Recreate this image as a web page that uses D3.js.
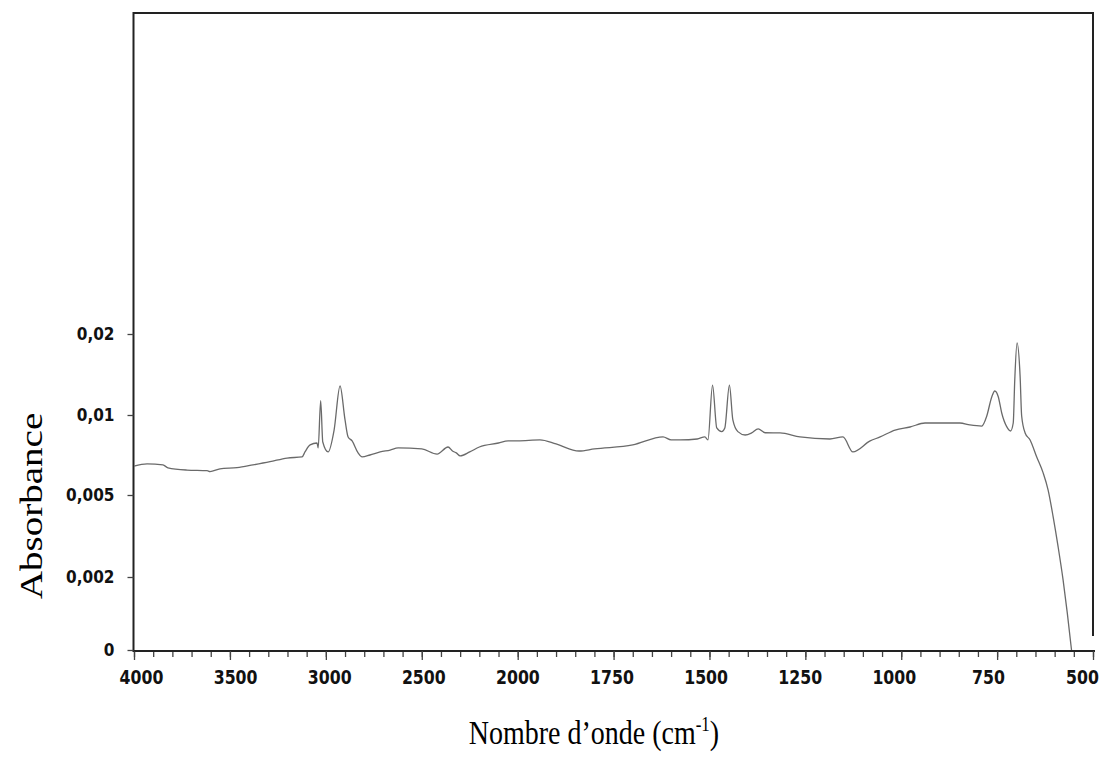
<!DOCTYPE html>
<html>
<head>
<meta charset="utf-8">
<script src="https://cdn.jsdelivr.net/npm/d3@7"></script>
<style>
body { margin: 0; background: #fff; }
.tick text { font-family: "Liberation Sans Narrow", "DejaVu Sans Condensed", sans-serif; font-weight: bold; fill: #111; }
.title { font-family: "Liberation Serif", "Times New Roman", serif; fill: #000; }
</style>
</head>
<body>
<svg id="chart" width="1100" height="760"></svg>
<script>
// spectrum (cm-1 / absorbance)
var wavenumber = [4000, 3932, 3849, 3823, 3724, 3619, 3604, 3552, 3463, 3380, 3291, 3202, 3124, 3108, 3082, 3046, 3040, 3027, 3016, 2988, 2957, 2926, 2900, 2884, 2863, 2832, 2811, 2770, 2717, 2665, 2623, 2500, 2420, 2363, 2340, 2320, 2300, 2250, 2200, 2100, 2050, 2000, 1942, 1900, 1840, 1800, 1700, 1621, 1600, 1576, 1532, 1512, 1504, 1492, 1481, 1468, 1460, 1448, 1439, 1426, 1407, 1390, 1373, 1355, 1334, 1316, 1264, 1186, 1152, 1126, 1081, 1055, 1016, 977, 938, 899, 847, 821, 790, 777, 764, 756, 747, 738, 725, 715, 708, 704, 698, 690, 686, 677, 664, 647, 630, 617, 604, 591, 578, 567, 556];
var absorbance = [0.00681, 0.00694, 0.00688, 0.00670, 0.00656, 0.00652, 0.00646, 0.00663, 0.00671, 0.00688, 0.00708, 0.00731, 0.00738, 0.00771, 0.00813, 0.00825, 0.00794, 0.01177, 0.00831, 0.00769, 0.00906, 0.01358, 0.00969, 0.00863, 0.00838, 0.00763, 0.00738, 0.0075, 0.00769, 0.00781, 0.00794, 0.00788, 0.00756, 0.008, 0.00775, 0.00763, 0.00744, 0.00769, 0.008, 0.00825, 0.00838, 0.00838, 0.00844, 0.00819, 0.00775, 0.00788, 0.00813, 0.00863, 0.00844, 0.00844, 0.0085, 0.00863, 0.00844, 0.0137, 0.00919, 0.00896, 0.00919, 0.0137, 0.00969, 0.00896, 0.00875, 0.00888, 0.00913, 0.00889, 0.00888, 0.00888, 0.00863, 0.0085, 0.00863, 0.00769, 0.00838, 0.00863, 0.00906, 0.00925, 0.0095, 0.0095, 0.0095, 0.00938, 0.00931, 0.00994, 0.01223, 0.01296, 0.01226, 0.01025, 0.00927, 0.009, 0.0095, 0.01432, 0.01889, 0.01473, 0.00994, 0.00888, 0.00844, 0.00739, 0.00638, 0.00531, 0.00421, 0.00311, 0.00192, 0.00101, 0];

var xTicks = [4000, 3500, 3000, 2500, 2000, 1750, 1500, 1250, 1000, 750, 500];
var yTicks = [0, 0.002, 0.005, 0.01, 0.02];
var yLabels = ["0", "0,002", "0,005", "0,01", "0,02"];

var svg = d3.select("#chart");

// the instrument plot changes scale at 2000 cm-1, and the y ticks are evenly spaced
var x = d3.scaleLinear().domain([4000, 2000, 500]).range([134, 517.7, 1093]);
var y = d3.scaleLinear().domain(yTicks).range([650, 577, 495, 415, 334]);

var minor = d3.range(4000, 2000, -100).concat(d3.range(2000, 499, -50));

// frame: top and right edges
svg.append("path")
  .attr("d", "M" + x(4000) + "," + 13 + "H" + x(500) + "V" + 636)
  .attr("fill", "none").attr("stroke", "#222").attr("stroke-width", 2);

var gx = svg.append("g").attr("transform", "translate(0,651)");
gx.call(d3.axisBottom(x).tickValues(minor).tickSize(6).tickSizeOuter(0).tickFormat(""));
var gxMajor = gx.append("g")
  .call(d3.axisBottom(x).tickValues(xTicks).tickSize(9).tickSizeOuter(0).tickFormat(d3.format("d")));
gx.selectAll(".domain").attr("stroke", "#222").attr("stroke-width", 2)
  .attr("d", "M" + (x(4000) - 1) + ",0H" + (x(500) + 2));
gx.selectAll(".tick line").attr("stroke", "#444").attr("stroke-width", 1.3);
// labels sit on an evenly spaced row, a little inside the end ticks
gxMajor.selectAll(".tick text")
  .attr("font-size", 17.5).attr("dy", "1.05em")
  .attr("x", function(d, i) { return 141 + i * 94.1 - x(d); })
  .attr("transform", "scale(1,1.1)");

var gy = svg.append("g").attr("transform", "translate(133.5,0)");
gy.call(d3.axisLeft(y).tickValues(yTicks).tickSize(6).tickSizeOuter(0)
  .tickFormat(function(d, i) { return yLabels[i]; }));
gy.select(".domain").attr("stroke", "#222").attr("stroke-width", 2).attr("d", "M0,12V652");
gy.selectAll(".tick line").attr("stroke", "#444").attr("stroke-width", 1.3);
gy.selectAll(".tick text").attr("font-size", 17).attr("x", -19);

var line = d3.line()
  .x(function(d, i) { return x(wavenumber[i]); })
  .y(function(d) { return y(d); })
  .curve(d3.curveMonotoneX);

svg.append("path")
  .datum(absorbance)
  .attr("d", line)
  .attr("fill", "none")
  .attr("stroke", "#6a6a6a")
  .attr("stroke-width", 1.3);

svg.append("text").attr("class", "title")
  .attr("transform", "translate(42,506) rotate(-90) scale(1.22,1)")
  .attr("text-anchor", "middle")
  .attr("font-size", 32)
  .text("Absorbance");

var xt = svg.append("text").attr("class", "title")
  .attr("transform", "translate(594,744) scale(1,1.2)")
  .attr("text-anchor", "middle")
  .attr("font-size", 28);
xt.append("tspan").text("Nombre d\u2019onde (cm");
xt.append("tspan").attr("font-size", 17).attr("dy", -11).text("-1");
xt.append("tspan").attr("dy", 11).text(")");
</script>
</body>
</html>
